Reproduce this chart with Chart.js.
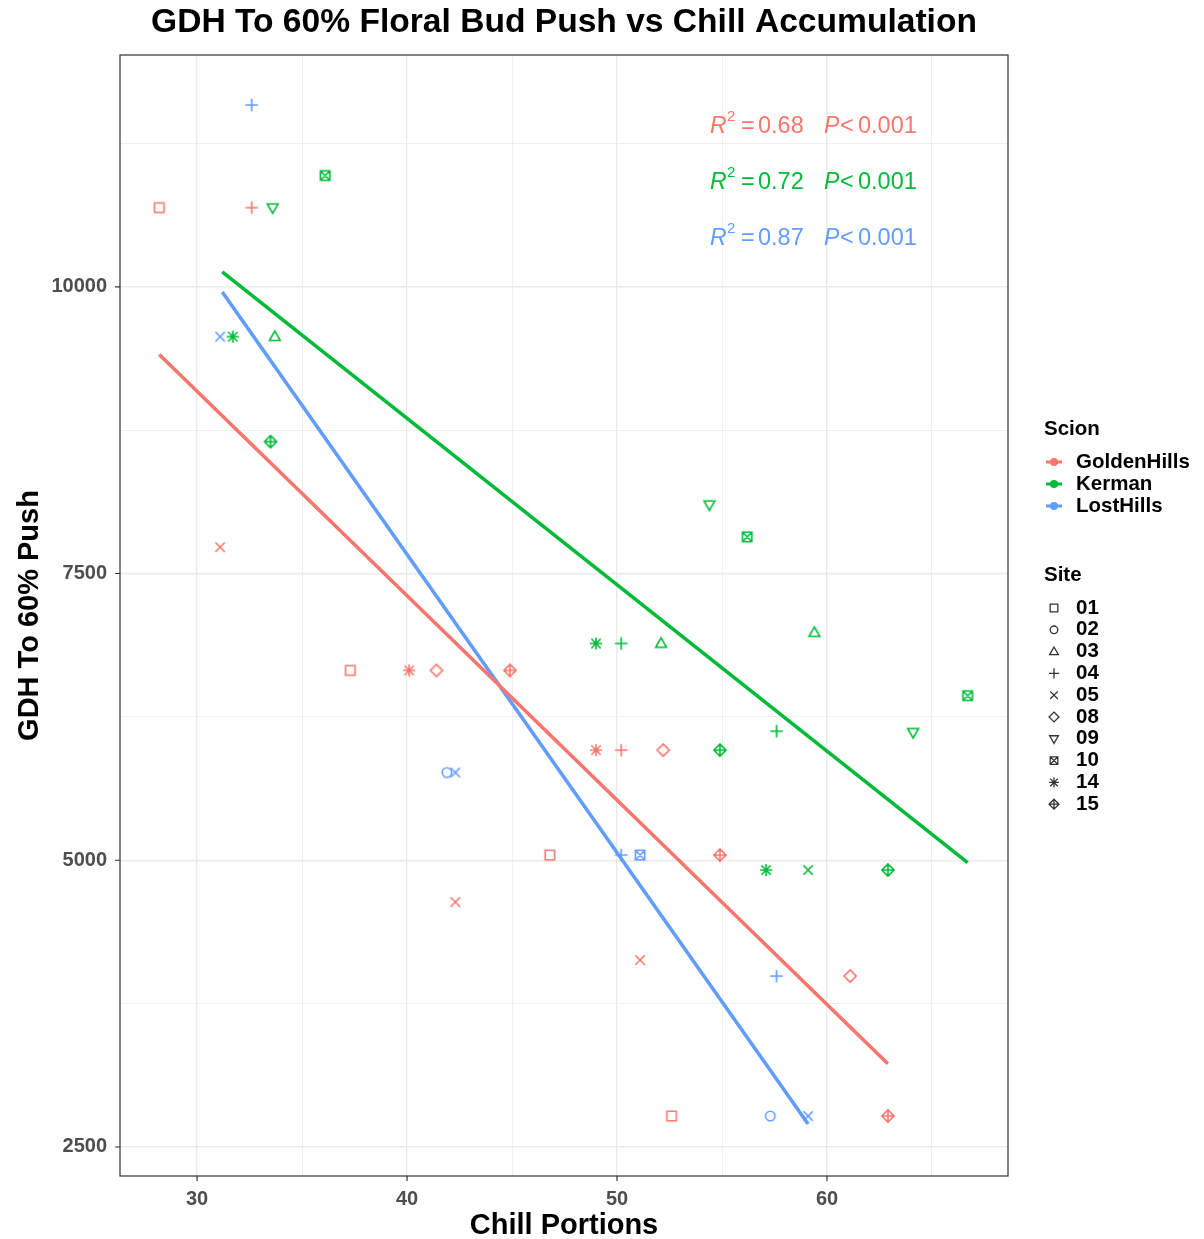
<!DOCTYPE html>
<html>
<head>
<meta charset="utf-8">
<script src="https://cdn.jsdelivr.net/npm/chart.js@4.4.1/dist/chart.umd.min.js"></script>
<style>
  body { margin: 0; background: #fff; }
  #wrap { width: 1204px; height: 1239px; }
</style>
</head>
<body>
<div id="wrap"><canvas id="gdhChart"></canvas></div>
<script>
// ---- data ----
const scionNames = ['GoldenHills', 'Kerman', 'LostHills'];
const scionColors = ['#F8766D', '#00BA38', '#619CFF'];

const siteCodes = ['01', '02', '03', '04', '05', '08', '09', '10', '14', '15'];

const ghChill = [28.2, 32.6, 31.1, 37.3, 40.1, 41.4, 44.9, 49.0, 50.2, 52.2, 46.8, 42.3, 54.9, 51.1, 61.1, 52.6, 62.9];
const ghGdh   = [10690, 10690, 7730, 6655, 6655, 6655, 6655, 5960, 5960, 5960, 5045, 4635, 5045, 4130, 3990, 2770, 2770];
const ghSite  = ['01', '04', '05', '01', '14', '08', '15', '14', '04', '08', '01', '05', '15', '05', '08', '01', '15'];

const kmChill = [36.1, 33.6, 31.7, 33.7, 33.5, 54.4, 56.2, 49.0, 50.2, 52.1, 59.4, 66.7, 57.6, 64.1, 54.9, 57.1, 59.1, 62.9];
const kmGdh   = [10970, 10690, 9565, 9565, 8650, 8100, 7820, 6890, 6890, 6890, 6985, 6435, 6125, 6115, 5960, 4915, 4915, 4915];
const kmSite  = ['10', '09', '14', '03', '15', '09', '10', '14', '04', '03', '03', '10', '04', '09', '15', '14', '05', '15'];

const lhChill = [32.6, 31.1, 41.9, 42.3, 50.2, 51.1, 57.6, 57.3, 59.1];
const lhGdh   = [11585, 9565, 5765, 5765, 5045, 5045, 3990, 2770, 2770];
const lhSite  = ['04', '05', '02', '05', '04', '10', '04', '02', '05'];

// fitted line end points
const ghFitX = [28.2, 62.9];  const ghFitY = [9410, 3225];
const kmFitX = [31.2, 66.7];  const kmFitY = [10130, 4980];
const lhFitX = [31.2, 59.1];  const lhFitY = [9955, 2700];

const r2Labels = ['0.68', '0.72', '0.87'];
const pLabels = ['0.001', '0.001', '0.001'];

const xTicks = [30, 35, 40, 45, 50, 55, 60, 65];
const xMajor = [30, 40, 50, 60];
const yTicks = [2500, 3750, 5000, 6250, 7500, 8750, 10000, 11250];
const yMajor = [2500, 5000, 7500, 10000];

const FONT = '"Liberation Sans", Arial, Helvetica, sans-serif';

// ggplot shapes 0..9 for the sites
const siteShape = {
  '01': 'square', '02': 'circle', '03': 'triangle', '04': 'plus', '05': 'cross',
  '08': 'diamond', '09': 'down', '10': 'squarex', '14': 'asterisk', '15': 'diamondplus'
};

function drawShape(ctx, shape, cx, cy, r) {
  ctx.beginPath();
  const sq = () => ctx.rect(cx - r, cy - r, 2 * r, 2 * r);
  const x = () => {
    ctx.moveTo(cx - r, cy - r); ctx.lineTo(cx + r, cy + r);
    ctx.moveTo(cx + r, cy - r); ctx.lineTo(cx - r, cy + r);
  };
  const p = (k) => {
    ctx.moveTo(cx - r * k, cy); ctx.lineTo(cx + r * k, cy);
    ctx.moveTo(cx, cy - r * k); ctx.lineTo(cx, cy + r * k);
  };
  const dia = () => {
    const d = r * 1.3;
    ctx.moveTo(cx, cy - d); ctx.lineTo(cx + d, cy); ctx.lineTo(cx, cy + d); ctx.lineTo(cx - d, cy); ctx.closePath();
  };
  switch (shape) {
    case 'square': sq(); break;
    case 'circle': ctx.arc(cx, cy, r, 0, Math.PI * 2); break;
    case 'triangle':
      ctx.moveTo(cx, cy - r * 1.2); ctx.lineTo(cx + r * 1.15, cy + r * 0.8); ctx.lineTo(cx - r * 1.15, cy + r * 0.8); ctx.closePath(); break;
    case 'down':
      ctx.moveTo(cx, cy + r * 1.2); ctx.lineTo(cx + r * 1.15, cy - r * 0.8); ctx.lineTo(cx - r * 1.15, cy - r * 0.8); ctx.closePath(); break;
    case 'plus': p(1.35); break;
    case 'cross': x(); break;
    case 'diamond': dia(); break;
    case 'squarex': sq(); x(); break;
    case 'asterisk': p(1.3); x(); break;
    case 'diamondplus': dia(); p(1.3); break;
  }
  ctx.stroke();
}

const markerCache = {};
function marker(site, color) {
  const key = site + color;
  if (markerCache[key]) return markerCache[key];
  const c = document.createElement('canvas');
  c.width = 16; c.height = 16;
  const g = c.getContext('2d');
  g.strokeStyle = color;
  g.lineWidth = 1.6;
  drawShape(g, siteShape[site], 8, 8, 4.7);
  markerCache[key] = c;
  return c;
}

function pts(xs, ys) { return xs.map((v, i) => ({ x: v, y: ys[i] })); }

function pointSet(label, xs, ys, sites, color) {
  return {
    type: 'scatter', label: label, data: pts(xs, ys),
    pointStyle: sites.map(s => marker(s, color)),
    order: 2
  };
}
function fitSet(label, xs, ys, color) {
  return {
    type: 'line', label: label, data: pts(xs, ys),
    borderColor: color, borderWidth: 3.6, pointRadius: 0, fill: false, order: 1
  };
}

const decorPlugin = {
  id: 'decor',
  afterDraw(chart) {
    const ctx = chart.ctx;
    const a = chart.chartArea;
    const xs = chart.scales.x, ys = chart.scales.y;
    ctx.save();

    // panel border
    ctx.strokeStyle = '#333333';
    ctx.lineWidth = 1.2;
    ctx.strokeRect(a.left, a.top, a.right - a.left, a.bottom - a.top);

    // tick marks
    ctx.lineWidth = 1.2;
    ctx.beginPath();
    xMajor.forEach(v => {
      const px = xs.getPixelForValue(v);
      ctx.moveTo(px, a.bottom); ctx.lineTo(px, a.bottom + 5);
    });
    yMajor.forEach(v => {
      const py = ys.getPixelForValue(v);
      ctx.moveTo(a.left - 5, py); ctx.lineTo(a.left, py);
    });
    ctx.stroke();

    // title and axis titles
    ctx.fillStyle = '#000';
    ctx.textAlign = 'center';
    ctx.textBaseline = 'middle';
    ctx.font = 'bold 33.6px ' + FONT;
    ctx.fillText('GDH To 60% Floral Bud Push vs Chill Accumulation', (a.left + a.right) / 2, 23);
    ctx.font = 'bold 29px ' + FONT;
    ctx.fillText('Chill Portions', (a.left + a.right) / 2, 1226);
    ctx.save();
    ctx.translate(30, (a.top + a.bottom) / 2);
    ctx.rotate(-Math.PI / 2);
    ctx.fillText('GDH To 60% Push', 0, 0);
    ctx.restore();

    // R2 / P annotations
    ctx.textAlign = 'left';
    for (let i = 0; i < 3; i++) {
      const y0 = 127 + 56 * i, x0 = 710;
      ctx.fillStyle = scionColors[i];
      ctx.font = 'italic 23px ' + FONT;
      ctx.fillText('R', x0, y0);
      ctx.fillText('P', x0 + 114, y0);
      ctx.font = '15px ' + FONT;
      ctx.fillText('2', x0 + 17, y0 - 10);
      ctx.font = '23.5px ' + FONT;
      ctx.fillText('=', x0 + 31, y0);
      ctx.fillText(r2Labels[i], x0 + 48, y0);
      ctx.fillText('<', x0 + 130, y0);
      ctx.fillText(pLabels[i], x0 + 148, y0);
    }

    // legends
    ctx.fillStyle = '#000';
    ctx.font = 'bold 20.5px ' + FONT;
    ctx.fillText('Scion', 1044, 429);
    scionNames.forEach((n, i) => {
      const y = 462 + 22 * i;
      ctx.strokeStyle = scionColors[i];
      ctx.fillStyle = scionColors[i];
      ctx.lineWidth = 3;
      ctx.beginPath(); ctx.moveTo(1046, y); ctx.lineTo(1062, y); ctx.stroke();
      ctx.beginPath(); ctx.arc(1054, y, 4, 0, Math.PI * 2); ctx.fill();
      ctx.fillStyle = '#000';
      ctx.fillText(n, 1076, y);
    });
    ctx.fillText('Site', 1044, 575);
    siteCodes.forEach((s, i) => {
      const y = 608 + 21.8 * i;
      ctx.strokeStyle = '#333333';
      ctx.lineWidth = 1.3;
      drawShape(ctx, siteShape[s], 1054, y, 3.8);
      ctx.fillStyle = '#000';
      ctx.fillText(s, 1076, y);
    });
    ctx.restore();
  }
};

const gridColor = '#EBEBEB';

new Chart(document.getElementById('gdhChart').getContext('2d'), {
  data: {
    datasets: [
      pointSet('GoldenHills', ghChill, ghGdh, ghSite, scionColors[0]),
      pointSet('Kerman', kmChill, kmGdh, kmSite, scionColors[1]),
      pointSet('LostHills', lhChill, lhGdh, lhSite, scionColors[2]),
      fitSet('GoldenHills fit', ghFitX, ghFitY, scionColors[0]),
      fitSet('Kerman fit', kmFitX, kmFitY, scionColors[1]),
      fitSet('LostHills fit', lhFitX, lhFitY, scionColors[2])
    ]
  },
  options: {
    responsive: true,
    maintainAspectRatio: false,
    animation: false,
    layout: { padding: { top: 55, right: 196, left: 0, bottom: 0 } },
    plugins: { legend: { display: false }, tooltip: { enabled: false }, title: { display: false } },
    scales: {
      x: {
        type: 'linear', min: 26.33, max: 68.62,
        afterBuildTicks: s => { s.ticks = xTicks.map(v => ({ value: v })); },
        afterFit: s => { s.height = 63; },
        ticks: {
          autoSkip: false, maxRotation: 0, padding: 11,
          color: '#4D4D4D', font: { family: FONT, size: 20, weight: 'bold' },
          callback: v => xMajor.includes(v) ? String(v) : ''
        },
        grid: {
          color: gridColor, drawTicks: false,
          lineWidth: c => (c.tick && xMajor.includes(c.tick.value)) ? 1.4 : 0.8
        },
        border: { display: false }
      },
      y: {
        type: 'linear', min: 2247, max: 12021,
        afterBuildTicks: s => { s.ticks = yTicks.map(v => ({ value: v })); },
        afterFit: s => { s.width = 120; },
        ticks: {
          autoSkip: false, padding: 13,
          color: '#4D4D4D', font: { family: FONT, size: 20, weight: 'bold' },
          callback: v => yMajor.includes(v) ? String(v) : ''
        },
        grid: {
          color: gridColor, drawTicks: false,
          lineWidth: c => (c.tick && yMajor.includes(c.tick.value)) ? 1.4 : 0.8
        },
        border: { display: false }
      }
    }
  },
  plugins: [decorPlugin]
});
</script>
</body>
</html>
